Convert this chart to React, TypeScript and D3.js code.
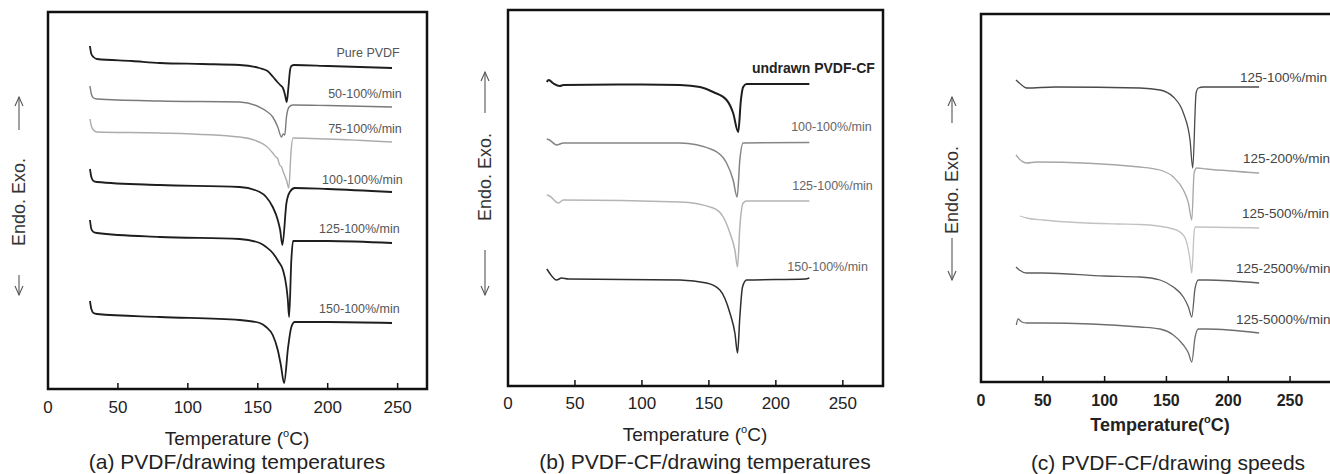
import React from "react";
import * as d3 from "d3";

type Pt = [number, number];

// x: temperature (°C), y: heat flow (a.u., exo up, curves offset)

// (a) PVDF / drawing temperatures
const aNames = ["Pure PVDF", "50-100%/min", "75-100%/min", "100-100%/min", "125-100%/min", "150-100%/min"];
const aPure: Pt[] = [[30, 34.3], [31, 33.5], [32.5, 33.2], [35, 33.0], [60, 32.8], [80, 32.6], [110, 32.5], [137, 32.4], [151, 32.1], [157, 31.8], [161, 31.2], [164, 30.7], [166, 30.4], [168, 30.1], [169.5, 29.4], [170.7, 28.7], [171.8, 30.0], [173, 31.8], [174, 32.3], [176, 32.4], [200, 32.3], [246, 32.1]];
const a50: Pt[] = [[30, 30.3], [31, 29.5], [32.5, 29.1], [35, 29.0], [80, 28.8], [137, 28.7], [151, 28.2], [156, 27.8], [160.7, 27.2], [164.3, 26.2], [166.9, 25.2], [168.3, 25.5], [169.3, 25.4], [170.5, 27.2], [172.4, 28.2], [175, 28.4], [200, 28.35], [246, 28.2]];
const a75: Pt[] = [[30, 27.0], [31, 26.3], [32.5, 25.9], [35, 25.7], [80, 25.6], [137, 25.2], [151, 24.7], [156, 24.3], [160.7, 23.6], [163, 23.2], [164, 23.1], [165.7, 22.4], [167, 22.2], [168.5, 21.6], [170.5, 20.9], [172.2, 20.1], [173.8, 23.8], [175.2, 25.1], [200, 25.0], [246, 24.7]];
const a100: Pt[] = [[30, 22.0], [31, 21.2], [32.5, 20.8], [35, 20.7], [80, 20.4], [137, 20.2], [151.4, 19.7], [156, 19.2], [160.7, 18.2], [164.3, 16.9], [166, 15.9], [167.6, 14.4], [170.5, 18.6], [172.9, 19.7], [176.4, 20.1], [200, 20.0], [246, 19.7]];
const a125: Pt[] = [[30, 16.9], [31, 16.0], [32.5, 15.7], [35, 15.6], [80, 15.2], [137, 15.0], [151.4, 14.6], [156, 14.2], [160.7, 13.6], [165, 12.7], [168, 11.9], [170.5, 10.2], [171.5, 8.9], [172.4, 7.2], [174, 12.9], [175.2, 14.8], [200, 14.8], [246, 14.6]];
const a150: Pt[] = [[30, 8.8], [31, 8.0], [32.5, 7.6], [35, 7.5], [80, 7.2], [137, 6.9], [151.4, 6.6], [156, 6.2], [160.7, 5.4], [164.3, 3.9], [166.5, 2.4], [168.8, 0.6], [171.7, 4.2], [174, 6.2], [176.4, 6.7], [200, 6.7], [246, 6.6]];

// (b) PVDF-CF / drawing temperatures
const bNames = ["undrawn PVDF-CF", "100-100%/min", "125-100%/min", "150-100%/min"];
const bUndrawn: Pt[] = [[28.9, 30.4], [30.4, 30.6], [34, 30.25], [38.8, 30.0], [41.3, 30.1], [100, 30.15], [128.4, 30.1], [143.3, 29.9], [153.2, 29.4], [163.2, 28.6], [168.1, 27.3], [171.9, 25.4], [173.9, 28.6], [175.6, 29.9], [178.1, 30.2], [225, 30.2]];
const b100: Pt[] = [[29, 24.7], [31, 24.6], [36.3, 24.1], [41.3, 24.3], [128.4, 24.3], [153.2, 23.6], [163.2, 22.3], [168.1, 20.6], [171.1, 18.9], [173.1, 22.6], [175.6, 24.3], [225, 24.35]];
const b125: Pt[] = [[29, 19.1], [31, 19.0], [37.6, 18.3], [41.3, 18.6], [128.4, 18.4], [153.2, 17.8], [160.7, 16.9], [165.7, 15.3], [169.4, 13.6], [171.4, 11.9], [173.1, 15.9], [175.6, 18.3], [178.1, 18.5], [225, 18.5]];
const b150: Pt[] = [[29, 11.7], [31, 11.3], [36.3, 10.6], [40, 10.8], [45, 10.7], [128.4, 10.6], [148.3, 10.3], [158.2, 9.6], [165.7, 7.3], [169.4, 5.3], [171.4, 3.3], [173.1, 6.9], [175.1, 9.9], [178.1, 10.6], [222, 10.7], [225, 10.8]];

// (c) PVDF-CF / drawing speeds
const cNames = ["125-100%/min", "125-200%/min", "125-500%/min", "125-2500%/min", "125-5000%/min"];
const c100: Pt[] = [[28.3, 30.2], [31, 29.9], [37, 29.4], [60, 29.5], [128.6, 29.4], [144.8, 29.2], [155.6, 28.5], [163.7, 26.9], [169.1, 24.2], [171.3, 21.4], [174, 28.9], [175.9, 29.4], [179.9, 29.5], [225, 29.5]];
const c200: Pt[] = [[28.3, 22.7], [31, 22.3], [37, 21.9], [45, 22.0], [128.6, 21.5], [144.8, 21.2], [155.6, 20.5], [163.7, 19.2], [167.8, 17.9], [170.5, 16.2], [172.4, 20.9], [174.5, 21.4], [182.6, 21.3], [225, 20.9]];
const c500: Pt[] = [[31.5, 16.6], [37, 16.4], [50, 16.2], [110, 15.8], [128.6, 15.75], [155.6, 15.3], [163.7, 14.7], [167.8, 13.2], [169.1, 12.2], [170.5, 10.9], [172.4, 15.0], [173.4, 15.5], [225, 15.4]];
const c2500: Pt[] = [[28.3, 11.5], [31, 11.2], [37, 10.9], [50, 10.9], [100, 10.6], [128.6, 10.5], [144.8, 10.2], [155.6, 9.5], [163.7, 8.5], [167.8, 7.5], [170.5, 6.5], [173.2, 9.4], [175.9, 10.2], [182.6, 10.2], [225, 9.9]];
const c5000: Pt[] = [[28.6, 5.7], [30, 6.3], [33, 6.0], [37, 5.9], [50, 5.9], [128.6, 5.5], [144.8, 5.3], [155.6, 4.7], [163.7, 3.7], [167.8, 2.9], [170.5, 2.0], [173.2, 4.5], [175.9, 5.3], [182.6, 5.3], [225, 4.9]];

const xTicks = [0, 50, 100, 150, 200, 250];

const FONT = "'Liberation Sans', Arial, sans-serif";

type Series = { pts: Pt[]; color: string; w: number; label: string; lx: number; ly: number; lcolor: string; lsize: number; bold?: boolean; anchor: "start" | "end" };

type PanelProps = {
  l: number; r: number; t: number; b: number;
  xMax: number; yMax: number;
  series: Series[];
  tickY: number; tickBold?: boolean;
  titleSpace: boolean; titleX: number; titleY: number; titleBold?: boolean;
  sub: string; subX: number; subY: number;
  ylx: number; yly: number; up: [number, number]; down: [number, number];
};

const Panel = (p: PanelProps) => {
  const x = d3.scaleLinear().domain([0, p.xMax]).range([p.l, p.r]);
  const y = d3.scaleLinear().domain([0, p.yMax]).range([p.b, p.t]);
  const line = d3.line<Pt>().x((d) => x(d[0])).y((d) => y(d[1])).curve(d3.curveMonotoneX);
  const ax = p.ylx;
  return (
    <g fontFamily={FONT}>
      {p.series.map((s, i) => (
        <path key={i} d={line(s.pts) || ""} fill="none" stroke={s.color} strokeWidth={s.w} strokeLinejoin="round" />
      ))}
      {p.series.map((s, i) => (
        <text key={"l" + i} x={x(s.lx)} y={y(s.ly)} dy="0.35em" textAnchor={s.anchor} fontSize={s.lsize}
          fill={s.lcolor} fontWeight={s.bold ? "bold" : "normal"}>{s.label}</text>
      ))}
      <rect x={p.l} y={p.t} width={p.r - p.l} height={p.b - p.t} fill="none" stroke="#111" strokeWidth={2.5} />
      {xTicks.map((v) => (
        <g key={v}>
          {v > 0 && <line x1={x(v)} x2={x(v)} y1={p.b} y2={p.b - 6} stroke="#111" strokeWidth={1.5} />}
          <text x={x(v)} y={p.tickY} textAnchor="middle" fontSize={p.tickBold ? 16 : 17} fill="#222"
            fontWeight={p.tickBold ? "bold" : "normal"}>{v}</text>
        </g>
      ))}
      <text x={p.titleX} y={p.titleY} textAnchor="middle" fontSize={p.titleBold ? 18 : 19} fill="#222" fontWeight={p.titleBold ? "bold" : "normal"}>
        {p.titleSpace ? "Temperature (" : "Temperature("}
        <tspan fontSize={11} dy={-8}>o</tspan>
        <tspan dy={8}>C)</tspan>
      </text>
      <text x={p.subX} y={p.subY} textAnchor="middle" fontSize={21} fill="#222">{p.sub}</text>
      <text transform={`translate(${ax},${p.yly}) rotate(-90)`} textAnchor="middle" dy="0.35em" fontSize={18} fill="#333">Endo. Exo.</text>
      <g stroke="#555" strokeWidth={1.1} fill="none">
        <line x1={ax} x2={ax} y1={p.up[0]} y2={p.up[1]} />
        <path d={`M${ax - 4},${p.up[1] + 9} L${ax},${p.up[1]} L${ax + 4},${p.up[1] + 9}`} />
        <line x1={ax} x2={ax} y1={p.down[0]} y2={p.down[1]} />
        <path d={`M${ax - 4},${p.down[1] - 9} L${ax},${p.down[1]} L${ax + 4},${p.down[1] - 9}`} />
      </g>
    </g>
  );
};

const App = () => {
  const aCol = ["#1e1e1e", "#7a7a7a", "#acacac", "#1e1e1e", "#1e1e1e", "#1e1e1e"];
  const aPts = [aPure, a50, a75, a100, a125, a150];
  const aLab: Pt[] = [[251.5, 33.6], [253, 29.5], [253, 26.0], [253.6, 20.9], [251.5, 16.0], [251.5, 8.0]];
  const aSeries: Series[] = aPts.map((pts, i) => ({
    pts, color: aCol[i], w: i === 1 || i === 2 ? 1.4 : 1.8, label: aNames[i],
    lx: aLab[i][0], ly: aLab[i][1], lcolor: "#555", lsize: 12.5, anchor: "end",
  }));

  const bCol = ["#1e1e1e", "#858585", "#b4b4b4", "#2e2e2e"];
  const bPts = [bUndrawn, b100, b125, b150];
  const bLab: Pt[] = [[273.9, 31.8], [271.6, 25.9], [272.4, 20.0], [268.7, 11.9]];
  const bSeries: Series[] = bPts.map((pts, i) => ({
    pts, color: bCol[i], w: i === 0 ? 2 : 1.5, label: bNames[i],
    lx: bLab[i][0], ly: bLab[i][1], lcolor: i === 0 ? "#222" : "#666", lsize: i === 0 ? 14 : 12.5,
    bold: i === 0, anchor: "end",
  }));

  const cCol = ["#4a4a4a", "#a6a6a6", "#c2c2c2", "#5e5e5e", "#6e6e6e"];
  const cPts = [c100, c200, c500, c2500, c5000];
  const cLab: Pt[] = [[209.5, 30.5], [212, 22.4], [211.2, 16.9], [206.3, 11.4], [206.3, 6.3]];
  const cSeries: Series[] = cPts.map((pts, i) => ({
    pts, color: cCol[i], w: 1.3, label: cNames[i],
    lx: cLab[i][0], ly: cLab[i][1], lcolor: "#444", lsize: 13.5, anchor: "start",
  }));

  return (
    <svg width={1330} height={474} style={{ position: "absolute", left: 0, top: 0, background: "#fff" }}>
      <Panel l={48} r={427} t={12} b={389} xMax={271} yMax={37.7} series={aSeries}
        tickY={413} titleSpace={true} titleX={237} titleY={445}
        sub="(a) PVDF/drawing temperatures" subX={237} subY={469}
        ylx={19} yly={202} up={[130, 97]} down={[275, 295]} />
      <Panel l={508} r={883} t={10} b={386} xMax={280} yMax={37.6} series={bSeries}
        tickY={409} titleSpace={true} titleX={695} titleY={441}
        sub="(b) PVDF-CF/drawing temperatures" subX={705} subY={469}
        ylx={485} yly={177} up={[113, 72]} down={[250, 295]} />
      <Panel l={981} r={1339} t={14} b={382} xMax={289.6} yMax={36.8} series={cSeries}
        tickY={406} tickBold={true} titleSpace={false} titleX={1160} titleY={431} titleBold={true}
        sub="(c) PVDF-CF/drawing speeds" subX={1168} subY={470}
        ylx={952} yly={190} up={[123, 97]} down={[238, 280]} />
    </svg>
  );
};

export default App;
